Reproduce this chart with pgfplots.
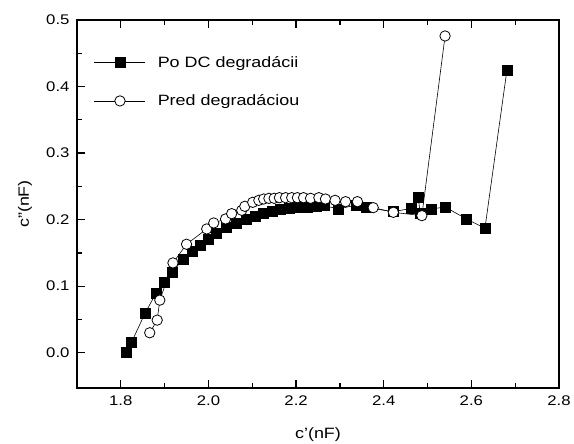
\documentclass[border=0pt]{standalone}
\usepackage{fontspec}
\setmainfont{Liberation Sans}
\usepackage{graphicx}
\usepackage{pgfplots}
\pgfplotsset{compat=1.18}
\newcommand{\wide}[1]{\scalebox{1.2}[1]{#1}}
\begin{document}
\begin{tikzpicture}
\begin{axis}[
  scale only axis, width=482bp, height=368bp,
  xmin=1.7, xmax=2.8, ymin=-0.053, ymax=0.5,
  xtick={1.8,2.0,...,2.8}, ytick={0,0.1,...,0.5},
  minor x tick num=1, minor y tick num=1,
  xtick pos=both, ytick pos=left,
  tick align=inside,
  major tick length=8bp, minor tick length=5bp,
  every tick/.style={line width=1.2pt, black},
  axis line style={line width=1.5pt},
  /pgf/number format/assume math mode=true,
  tick label style={font=\fontsize{14pt}{16pt}\selectfont},
  xticklabel={\wide{\pgfmathprintnumber[fixed,fixed zerofill,precision=1]{\tick}}},
  yticklabel={\wide{\pgfmathprintnumber[fixed,fixed zerofill,precision=1]{\tick}}},
  xticklabel style={yshift=-4bp},
  yticklabel style={xshift=-4bp},
  xlabel={\wide{c'(nF)}}, ylabel={\wide{c''(nF)}},
  xlabel style={font=\fontsize{15pt}{17pt}\selectfont, at={(axis description cs:0.5,0)}, anchor=center, yshift=-47bp},
  ylabel style={font=\fontsize{15pt}{17pt}\selectfont, at={(axis description cs:0,0.5)}, anchor=center, yshift=52bp},
  legend style={draw=none, fill=none, at={(0.029,0.913)}, anchor=north west,
    font=\fontsize{15pt}{17pt}\selectfont, row sep=22bp, column sep=10bp},
  legend cell align=left,
  legend image code/.code={\draw[mark repeat=2,mark phase=2,#1] plot coordinates {(0cm,0cm) (0.9cm,0cm) (1.8cm,0cm)};},
]
\addplot[black, line width=0.6pt, mark=square*, mark size=5bp, mark options={fill=black}] coordinates {
(1.813,0.000) (1.824,0.015) (1.855,0.059) (1.880,0.089) (1.899,0.106)
(1.918,0.121) (1.942,0.141) (1.964,0.153) (1.982,0.162) (1.999,0.171)
(2.018,0.180) (2.041,0.189) (2.064,0.195) (2.087,0.200) (2.106,0.205)
(2.125,0.210) (2.145,0.213) (2.165,0.215) (2.185,0.217) (2.205,0.218)
(2.225,0.219) (2.245,0.220) (2.265,0.221) (2.296,0.216) (2.338,0.222)
(2.361,0.218) (2.422,0.212) (2.464,0.217) (2.479,0.233) (2.483,0.210)
(2.509,0.216) (2.540,0.219) (2.589,0.201) (2.631,0.187) (2.681,0.424)
};
\addlegendentry{\wide{Po DC degradácii}}
\addplot[black, line width=0.6pt, mark=*, mark size=5.2bp, mark options={fill=white, line width=0.8pt}] coordinates {
(1.866,0.030) (1.883,0.049) (1.889,0.079) (1.919,0.135) (1.950,0.163)
(1.996,0.186) (2.012,0.195) (2.039,0.201) (2.053,0.209) (2.076,0.214)
(2.083,0.220) (2.101,0.226) (2.115,0.229) (2.126,0.231) (2.138,0.232)
(2.150,0.232) (2.162,0.233) (2.176,0.233) (2.190,0.233) (2.203,0.233)
(2.217,0.233) (2.233,0.232) (2.252,0.233) (2.267,0.231) (2.289,0.229)
(2.313,0.227) (2.340,0.227) (2.376,0.218) (2.422,0.211) (2.487,0.206)
(2.540,0.476)
};
\addlegendentry{\wide{Pred degradáciou}}
\end{axis}
\pgfresetboundingbox
\path (current axis.south west) ++(-77bp,-56bp) rectangle ([xshift=15bp,yshift=20bp]current axis.north east);
\end{tikzpicture}
\end{document}
